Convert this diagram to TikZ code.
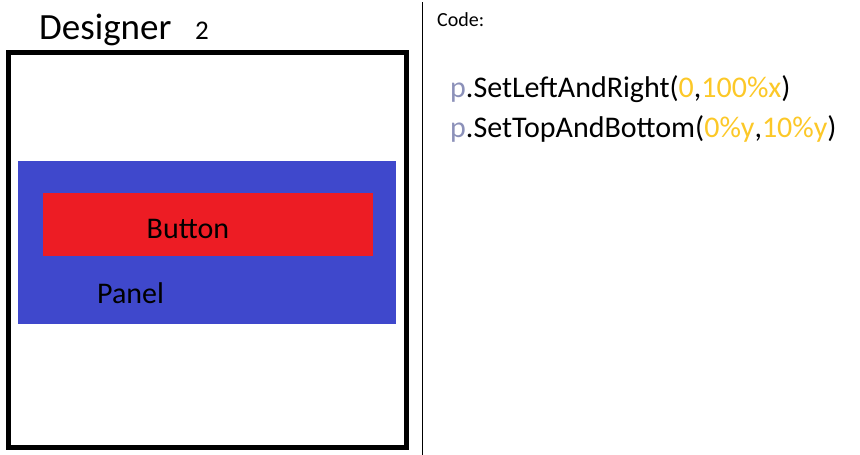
\documentclass[tikz,border=0pt]{standalone}
\usepackage{fontspec}
\setmainfont{Carlito}
\usetikzlibrary{positioning}
\definecolor{panelblue}{RGB}{63,72,204}
\definecolor{buttonred}{RGB}{237,28,36}
\definecolor{varcol}{RGB}{140,145,185}
\definecolor{numcol}{RGB}{252,200,40}
\tikzset{
        box/.style={inner sep=0pt, outer sep=0pt}, % plain filled rectangles
        label text/.style={inner sep=0pt, anchor=base west}, % text placed by its baseline
        code text/.style={label text, font=\fontsize{30}{34}\selectfont},
    }
\newcommand{\pvar}{\textcolor{varcol}{p}}
\newcommand{\num}[1]{\textcolor{numcol}{#1}}

\begin{document}
\begin{tikzpicture}[x=1pt, y=-1pt]
    \useasboundingbox (0,0) rectangle (860,455);
    % designer side
    \node[box, draw, line width=5pt, minimum width=398.5pt, minimum height=395pt] (frame) at (207.25,250) {};
    \node[box, fill=panelblue, minimum width=378pt, minimum height=163pt] (panel) at (207,242.5) {};
    \node[box, fill=buttonred, minimum width=330pt, minimum height=63pt] (button) at (208,224.5) {};
    \node[label text, font=\fontsize{30}{34}\selectfont] (btext) at (146.5,238) {Button};
    \node[label text, font=\fontsize{30}{34}\selectfont] (ptext) at (97,303) {Panel};
    \node[label text, font=\fontsize{37}{40}\selectfont] (title) at (39,39) {Designer};
    \node[label text, font=\fontsize{27}{30}\selectfont] (num) at (195,39) {2};
    % divider
    \coordinate (top) at (422.5,2);
    \coordinate (bottom) at (422.5,455);
    \draw[line width=1pt] (top) -- (bottom);
    % code side
    \node[label text, font=\fontsize{20}{24}\selectfont] (code) at (437,27) {Code:};
    \node[code text] (line1) at (450,97) {\pvar.SetLeftAndRight(\num{0},\num{100\%x})};
    \node[code text] (line2) at (450,137) {\pvar.SetTopAndBottom(\num{0\%y},\num{10\%y})};
\end{tikzpicture}
\end{document}
